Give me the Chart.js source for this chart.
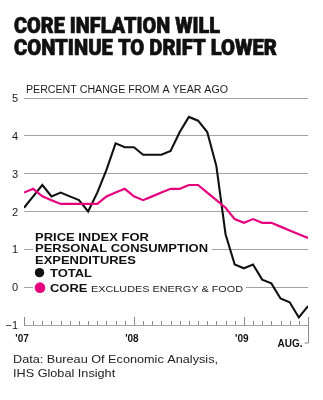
<!DOCTYPE html>
<html>
<head>
<meta charset="utf-8">
<script src="https://cdn.jsdelivr.net/npm/chart.js@4.4.1/dist/chart.umd.min.js"></script>
<style>
  html, body { margin: 0; padding: 0; background: #fff; }
  #wrap { width: 323px; height: 400px; }
</style>
</head>
<body>
<div id="wrap"><canvas id="chart" width="323" height="400"></canvas></div>
<script>
// months Jan 2007 .. Aug 2009
const months = [
  'Jan 07', 'Feb 07', 'Mar 07', 'Apr 07', 'May 07', 'Jun 07', 'Jul 07', 'Aug 07', 'Sep 07', 'Oct 07', 'Nov 07', 'Dec 07',
  'Jan 08', 'Feb 08', 'Mar 08', 'Apr 08', 'May 08', 'Jun 08', 'Jul 08', 'Aug 08', 'Sep 08', 'Oct 08', 'Nov 08', 'Dec 08',
  'Jan 09', 'Feb 09', 'Mar 09', 'Apr 09', 'May 09', 'Jun 09', 'Jul 09', 'Aug 09'
];
const totalPCE = [2.1, 2.4, 2.7, 2.4, 2.5, 2.4, 2.3, 2.0, 2.5, 3.1, 3.8, 3.7,
                  3.7, 3.5, 3.5, 3.5, 3.6, 4.1, 4.5, 4.4, 4.1, 3.2, 1.4, 0.6,
                  0.5, 0.6, 0.2, 0.1, -0.3, -0.4, -0.8, -0.5];
const corePCE = [2.5, 2.6, 2.4, 2.3, 2.2, 2.2, 2.2, 2.2, 2.2, 2.4, 2.5, 2.6,
                 2.4, 2.3, 2.4, 2.5, 2.6, 2.6, 2.7, 2.7, 2.5, 2.3, 2.1, 1.8,
                 1.7, 1.8, 1.7, 1.7, 1.6, 1.5, 1.4, 1.3];
const yTicks = [5, 4, 3, 2, 1, 0, -1];
const yTickLabels = ['5', '4', '3', '2', '1', '0', '\u22121'];
const xYearTicks = [0, 12, 24];
const xYearLabels = ["'07", "'08", "'09"];
const lastLabel = 'AUG.';

const titleLines = ['CORE INFLATION WILL', 'CONTINUE TO DRIFT LOWER'];
const subtitle = 'PERCENT CHANGE FROM A YEAR AGO';
const legendHead = ['PRICE INDEX FOR', 'PERSONAL CONSUMPTION', 'EXPENDITURES'];
const sourceLines = ['Data: Bureau Of Economic Analysis,', 'IHS Global Insight'];

const BLACK = '#111111';
const PINK = '#e6007e';
const GRID = '#a3a3a3';

// draw text squeezed/stretched to width w, returns the factor used
function fitText(ctx, text, x, y, w, stroke) {
  const m = ctx.measureText(text).width;
  ctx.save();
  ctx.translate(x, y);
  ctx.scale(w / m, 1);
  ctx.fillText(text, 0, 0);
  if (stroke) ctx.strokeText(text, 0, 0);
  ctx.restore();
  return w / m;
}

const decor = {
  id: 'decor',
  beforeDatasetsDraw(chart) {
    const ctx = chart.ctx;
    const ys = chart.scales.y;
    const area = chart.chartArea;
    const y1 = ys.getPixelForValue(1);
    const y0 = ys.getPixelForValue(0);

    // white masks where legend text sits on the grid
    ctx.save();
    ctx.fillStyle = '#fff';
    ctx.fillRect(area.left + 9, y1 - 3, 179, 6);
    ctx.fillRect(area.left + 9, y0 - 3, 213, 6);

    // legend header
    ctx.fillStyle = BLACK;
    ctx.textBaseline = 'alphabetic';
    ctx.font = 'bold 11px "Liberation Sans", Arial, sans-serif';
    const k = 173 / ctx.measureText(legendHead[1]).width;
    legendHead.forEach((t, i) => {
      const w = ctx.measureText(t).width * k;
      fitText(ctx, t, 35, y1 + 3 + (i - 1) * 11.8, w);
    });

    // markers
    ctx.beginPath();
    ctx.arc(39.5, y0 - 14.5, 4.7, 0, Math.PI * 2);
    ctx.fillStyle = BLACK;
    ctx.fill();
    ctx.beginPath();
    ctx.arc(40, y0 + 0.5, 5.3, 0, Math.PI * 2);
    ctx.fillStyle = PINK;
    ctx.fill();

    ctx.fillStyle = BLACK;
    fitText(ctx, 'TOTAL', 50, y0 - 10, ctx.measureText('TOTAL').width * k);
    fitText(ctx, 'CORE', 50, y0 + 4.5, ctx.measureText('CORE').width * k);
    ctx.font = '9.5px "Liberation Sans", Arial, sans-serif';
    ctx.fillStyle = '#222';
    fitText(ctx, 'EXCLUDES ENERGY & FOOD', 91, y0 + 4.5, 152);
    ctx.restore();
  },
  afterDraw(chart) {
    const ctx = chart.ctx;
    const xs = chart.scales.x;
    const ys = chart.scales.y;
    ctx.save();

    // title
    ctx.fillStyle = '#111';
    ctx.strokeStyle = '#111';
    ctx.lineWidth = 0.7;
    ctx.textAlign = 'left';
    ctx.textBaseline = 'alphabetic';
    ctx.font = '900 22px Roboto, "Liberation Sans", Arial, sans-serif';
    fitText(ctx, titleLines[0], 14, 33, 206, true);
    fitText(ctx, titleLines[1], 14, 55, 263, true);

    // subtitle
    ctx.font = '10px "Liberation Sans", Arial, sans-serif';
    ctx.fillStyle = '#1a1a1a';
    fitText(ctx, subtitle, 26, 93, 202);

    // y labels
    ctx.font = '11px "Liberation Sans", Arial, sans-serif';
    ctx.textAlign = 'right';
    ctx.textBaseline = 'middle';
    yTicks.forEach((v, i) => {
      ctx.fillText(yTickLabels[i], 18, ys.getPixelForValue(v) + 1);
    });

    // x axis tick marks
    const yb = ys.getPixelForValue(-1);
    ctx.strokeStyle = '#8a8a8a';
    ctx.lineWidth = 1;
    ctx.beginPath();
    months.forEach((m, i) => {
      const x = Math.round(xs.getPixelForValue(i)) + 0.5;
      const h = (i % 12 === 0) ? 8 : 4;
      ctx.moveTo(x, yb);
      ctx.lineTo(x, yb - h);
    });
    const xl = Math.round(xs.getPixelForValue(months.length - 1)) + 0.5;
    ctx.moveTo(xl, yb - 8);
    ctx.lineTo(xl, yb + 18);
    ctx.lineTo(xl - 4, yb + 18);
    ctx.stroke();

    // x labels
    ctx.fillStyle = '#111';
    ctx.font = 'bold 10px "Liberation Sans", Arial, sans-serif';
    ctx.textAlign = 'center';
    ctx.textBaseline = 'alphabetic';
    xYearTicks.forEach((v, i) => {
      ctx.fillText(xYearLabels[i], xs.getPixelForValue(v) - 2, yb + 17);
    });
    ctx.textAlign = 'right';
    ctx.fillText(lastLabel, xl - 6, yb + 22);

    // source
    ctx.textAlign = 'left';
    ctx.font = '11px "Liberation Sans", Arial, sans-serif';
    ctx.fillStyle = '#222';
    const ks = fitText(ctx, sourceLines[0], 13, 363, 205);
    fitText(ctx, sourceLines[1], 13, 377, ctx.measureText(sourceLines[1]).width * ks);
    ctx.restore();
  }
};

new Chart(document.getElementById('chart').getContext('2d'), {
  type: 'line',
  data: {
    labels: months,
    datasets: [
      {
        label: 'CORE',
        data: corePCE.map((v, i) => ({ x: i, y: v })),
        borderColor: PINK,
        borderWidth: 2.2,
        pointRadius: 0,
        tension: 0
      },
      {
        label: 'TOTAL',
        data: totalPCE.map((v, i) => ({ x: i, y: v })),
        borderColor: BLACK,
        borderWidth: 2.1,
        pointRadius: 0,
        tension: 0
      }
    ]
  },
  options: {
    responsive: false,
    devicePixelRatio: 1,
    animation: false,
    layout: { padding: { left: 24, right: 15, top: 98, bottom: 75 } },
    plugins: {
      legend: { display: false },
      tooltip: { enabled: false }
    },
    scales: {
      x: {
        type: 'linear',
        min: 0,
        max: months.length - 1,
        display: false
      },
      y: {
        min: -1,
        max: 5,
        afterFit: s => { s.width = 0; },
        ticks: { display: false, stepSize: 1 },
        border: { display: false },
        grid: { color: GRID, lineWidth: 1, drawTicks: false }
      }
    }
  },
  plugins: [decor]
});
</script>
</body>
</html>
